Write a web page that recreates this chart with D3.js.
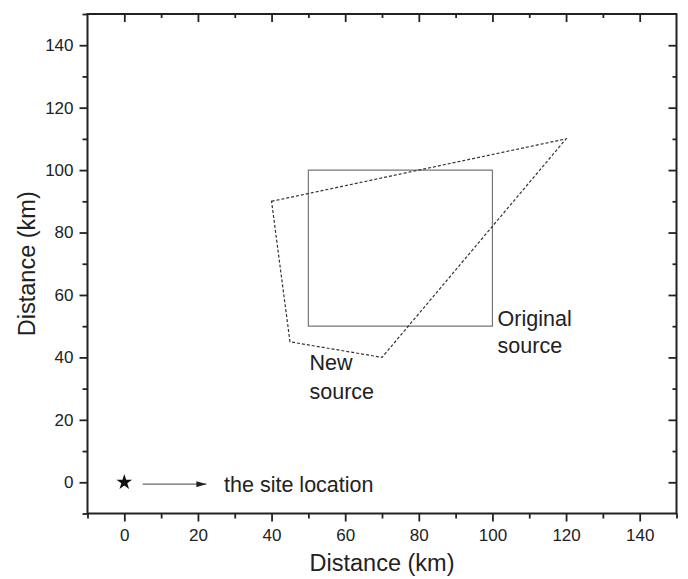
<!DOCTYPE html>
<html><head><meta charset="utf-8">
<script src="https://cdn.jsdelivr.net/npm/d3@7"></script>
<style>
body{margin:0;background:#fff;}
svg{display:block;font-family:"Liberation Sans",Arial,sans-serif;}
</style></head>
<body>
<svg id="c" width="688" height="579"></svg>
<script>
const xDomain = [-10, 150];
const yDomain = [-10, 150];
const majorTicks = [0, 20, 40, 60, 80, 100, 120, 140];
const minorTicks = [-10, 10, 30, 50, 70, 90, 110, 130, 150];
const originalSource = [[50, 50], [100, 50], [100, 100], [50, 100]];
const newSource = [[40, 90], [120, 110], [70, 40], [45, 45]];
const sitePoint = [0, 0];
const arrowFrom = [5, -0.6];
const arrowTo = [22.3, -0.6];
const labels = [
  {lines: ["Original", "source"], pos: [101.4, 50.0], gap: 27},
  {lines: ["New", "source"], pos: [50.3, 36.0], gap: 29},
  {lines: ["the site location"], pos: [27.1, -3.0], gap: 0}
];
const xTitle = "Distance (km)";
const yTitle = "Distance (km)";

const svg = d3.select("#c");
const L = 87.5, R = 676.5, T = 14, B = 513.5;
const x = d3.scaleLinear().domain(xDomain).range([L, R]);
const y = d3.scaleLinear().domain(yDomain).range([B, T]);
const ink = "#222";

function styleAxis(g) {
  g.select(".domain").remove();
  g.selectAll("line").attr("stroke", ink).attr("stroke-width", 1.8);
  g.selectAll("text").attr("fill", ink).style("font-size", "17px").style("font-family", '"Liberation Sans",Arial,sans-serif');
}
// bottom
svg.append("g").attr("transform", `translate(0,${B})`)
  .call(d3.axisBottom(x).tickValues(majorTicks).tickSize(8).tickPadding(7).tickSizeOuter(0)).call(styleAxis);
svg.append("g").attr("transform", `translate(0,${B})`)
  .call(d3.axisBottom(x).tickValues(minorTicks).tickSize(5).tickFormat("").tickSizeOuter(0)).call(styleAxis);
// left
svg.append("g").attr("transform", `translate(${L},0)`)
  .call(d3.axisLeft(y).tickValues(majorTicks).tickSize(8).tickPadding(6).tickSizeOuter(0)).call(styleAxis);
svg.append("g").attr("transform", `translate(${L},0)`)
  .call(d3.axisLeft(y).tickValues(minorTicks).tickSize(5).tickFormat("").tickSizeOuter(0)).call(styleAxis);
// top (inward)
svg.append("g").attr("transform", `translate(0,${T})`)
  .call(d3.axisBottom(x).tickValues(majorTicks).tickSize(8).tickFormat("").tickSizeOuter(0)).call(styleAxis);
svg.append("g").attr("transform", `translate(0,${T})`)
  .call(d3.axisBottom(x).tickValues(minorTicks.filter(v => v > xDomain[0] && v < xDomain[1])).tickSize(4).tickFormat("").tickSizeOuter(0)).call(styleAxis);
// right (inward)
svg.append("g").attr("transform", `translate(${R},0)`)
  .call(d3.axisLeft(y).tickValues(majorTicks).tickSize(8).tickFormat("").tickSizeOuter(0)).call(styleAxis);
svg.append("g").attr("transform", `translate(${R},0)`)
  .call(d3.axisLeft(y).tickValues(minorTicks.filter(v => v > yDomain[0] && v < yDomain[1])).tickSize(4).tickFormat("").tickSizeOuter(0)).call(styleAxis);

// frame
svg.append("rect").attr("x", L).attr("y", T).attr("width", R - L).attr("height", B - T)
  .attr("fill", "none").attr("stroke", ink).attr("stroke-width", 2);

const line = d3.line().x(d => x(d[0])).y(d => y(d[1])).curve(d3.curveLinearClosed);
svg.append("path").attr("d", line(originalSource)).attr("fill", "none").attr("stroke", "#777").attr("stroke-width", 1.2);
svg.append("path").attr("d", line(newSource)).attr("fill", "none").attr("stroke", "#333").attr("stroke-width", 1.2).attr("stroke-dasharray", "3,2");

// star
svg.append("path").attr("d", d3.symbol(d3.symbolStar, 75)())
  .attr("transform", `translate(${x(sitePoint[0])},${y(sitePoint[1])})`).attr("fill", "#111");

// arrow
const defs = svg.append("defs");
defs.append("marker").attr("id", "ah").attr("viewBox", "0 0 10 6").attr("refX", 10).attr("refY", 3)
  .attr("markerWidth", 10).attr("markerHeight", 6).attr("markerUnits", "userSpaceOnUse").attr("orient", "auto")
  .append("path").attr("d", "M0,0L10,3L0,6Z").attr("fill", "#222");
svg.append("line").attr("x1", x(arrowFrom[0])).attr("y1", y(arrowFrom[1])).attr("x2", x(arrowTo[0])).attr("y2", y(arrowTo[1]))
  .attr("stroke", "#666").attr("stroke-width", 1.2).attr("marker-end", "url(#ah)");

// labels
labels.forEach(l => {
  const t = svg.append("text").attr("x", x(l.pos[0])).attr("y", y(l.pos[1]))
    .attr("fill", ink).style("font-size", "21.5px");
  l.lines.forEach((s, i) => t.append("tspan").attr("x", x(l.pos[0])).attr("dy", i === 0 ? 0 : l.gap).text(s));
});

// titles
svg.append("text").attr("x", (L + R) / 2).attr("y", 571).attr("text-anchor", "middle")
  .attr("fill", ink).style("font-size", "23.5px").text(xTitle);
svg.append("text").attr("transform", `translate(35,${(T + B) / 2}) rotate(-90)`).attr("text-anchor", "middle")
  .attr("fill", ink).style("font-size", "23.5px").text(yTitle);
</script>
</body></html>
